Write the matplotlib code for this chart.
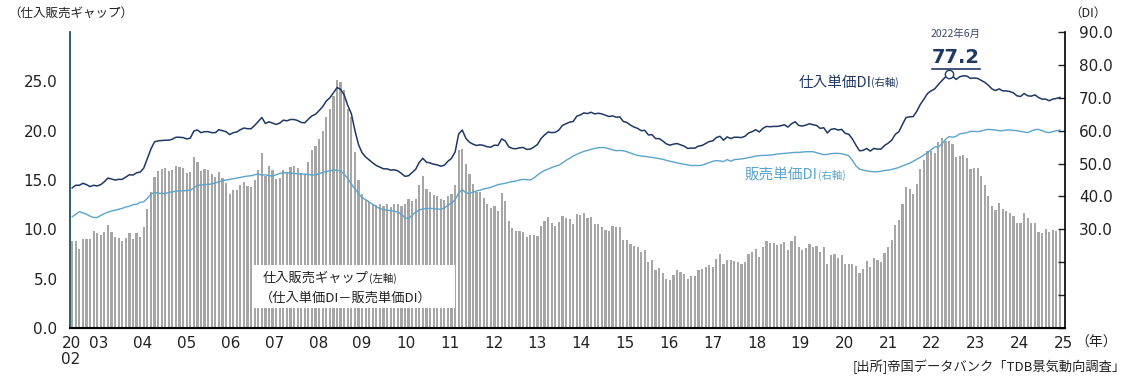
import numpy as np
import matplotlib.pyplot as plt
from matplotlib.patches import Rectangle
from matplotlib.lines import Line2D

plt.rcParams['font.family'] = ['Noto Sans CJK JP', 'DejaVu Sans']

# 月次 2002年1月〜2025年1月
gap = [
    8.8, 8.8, 8.0, 9.0, 9.0, 9.0, 9.8, 9.6, 9.4, 9.7, 10.4, 9.7,
    9.2, 9.1, 8.8, 9.1, 9.6, 9.0, 9.6, 9.2, 10.2, 12.1, 13.8, 15.3,
    15.9, 16.1, 16.2, 15.9, 16.0, 16.4, 16.3, 16.2, 15.7, 15.8, 17.3, 16.8,
    15.9, 16.1, 16.0, 15.6, 15.3, 15.8, 15.2, 14.7, 13.6, 14.0, 14.0, 14.5,
    14.8, 14.4, 14.3, 15.0, 16.0, 17.7, 15.4, 16.4, 16.0, 15.1, 15.2, 16.0,
    15.8, 16.3, 16.4, 16.2, 15.7, 15.6, 16.8, 18.0, 18.4, 19.2, 20.0, 21.4,
    22.2, 23.5, 25.1, 24.9, 24.1, 22.2, 21.4, 17.8, 15.0, 13.6, 13.0, 12.8,
    12.6, 12.5, 12.6, 12.4, 12.6, 12.3, 12.6, 12.6, 12.4, 12.6, 13.1, 12.9,
    13.1, 14.5, 15.4, 14.1, 13.8, 13.5, 13.4, 13.1, 13.0, 13.4, 13.6, 14.5,
    18.0, 18.1, 16.6, 15.6, 14.6, 13.8, 13.8, 13.2, 12.6, 12.2, 12.4, 11.9,
    13.7, 12.9, 10.8, 10.1, 9.8, 9.8, 9.7, 9.2, 9.4, 9.4, 9.3, 10.3,
    10.8, 11.3, 10.6, 10.3, 10.7, 11.4, 11.1, 11.0, 10.5, 11.6, 11.5, 11.7,
    11.2, 11.3, 10.5, 10.5, 10.2, 9.9, 9.8, 10.3, 10.2, 10.2, 8.9, 8.9,
    8.5, 8.3, 8.2, 7.7, 7.9, 6.7, 6.9, 5.9, 6.1, 5.6, 5.0, 4.9,
    5.4, 5.9, 5.7, 5.5, 5.0, 5.3, 5.3, 5.9, 6.0, 6.2, 6.4, 6.2,
    7.0, 7.5, 6.5, 6.9, 6.9, 6.8, 6.7, 6.5, 6.7, 7.5, 7.7, 8.0,
    7.2, 8.2, 8.8, 8.6, 8.6, 8.4, 8.5, 8.7, 7.9, 8.8, 9.3, 8.2,
    7.9, 8.1, 8.5, 8.2, 8.3, 7.7, 8.2, 6.5, 7.4, 7.5, 7.1, 7.4,
    6.5, 6.5, 6.5, 6.3, 5.6, 6.0, 6.8, 6.2, 7.1, 6.9, 6.7, 7.6,
    8.2, 8.9, 10.4, 10.9, 12.6, 14.3, 14.1, 13.6, 14.6, 16.1, 17.0, 17.9,
    17.9, 17.7, 18.9, 19.3, 19.0, 19.0, 18.6, 17.3, 17.4, 17.5, 17.2, 16.1,
    16.2, 16.2, 15.4, 14.5, 13.4, 12.4, 12.0, 12.7, 12.1, 11.9, 11.7, 11.4,
    10.6, 10.6, 11.7, 11.2, 10.6, 10.6, 9.7, 9.6, 10.0, 9.7, 9.9, 9.8,
    9.9,
]

purchase_di = [
    42.6, 43.4, 43.4, 44.0, 43.6, 43.0, 43.4, 43.2, 43.6, 44.5, 45.6, 45.3,
    45.0, 45.2, 45.2, 45.9, 46.6, 46.5, 47.2, 47.4, 48.6, 51.5, 54.4, 56.6,
    56.9, 57.0, 57.1, 57.1, 57.4, 58.0, 58.0, 57.9, 57.5, 57.7, 59.9, 60.2,
    59.4, 59.7, 59.7, 59.4, 59.4, 60.3, 60.0, 59.7, 58.8, 59.4, 59.6, 60.3,
    60.8, 60.6, 60.6, 61.6, 62.8, 64.0, 62.2, 62.7, 62.3, 61.9, 62.3, 63.2,
    63.0, 63.4, 63.4, 63.1, 62.5, 62.4, 63.5, 64.5, 65.0, 66.1, 67.3, 69.0,
    70.0, 71.5, 73.1, 72.6, 70.9, 67.7, 65.2, 60.1, 55.8, 53.3, 52.0, 51.1,
    50.2, 49.4, 48.9, 48.4, 48.4, 48.0, 48.1, 47.8, 47.0, 46.1, 46.3, 47.3,
    48.3, 50.4, 51.6, 50.4, 50.2, 49.8, 49.6, 49.2, 49.5, 50.7, 51.6, 53.5,
    59.0, 60.2, 57.7, 56.5, 55.9, 55.5, 55.7, 55.5, 55.1, 55.0, 55.6, 55.5,
    57.5, 56.9, 55.1, 54.6, 54.5, 54.8, 54.9, 54.3, 54.4, 55.0, 55.8, 57.6,
    58.7, 59.6, 59.4, 59.5, 60.2, 61.6, 62.1, 62.6, 62.8, 64.4, 64.8, 65.4,
    65.2, 65.6, 65.1, 65.3, 65.1, 64.7, 64.3, 64.5, 64.1, 64.2, 62.8, 62.5,
    61.7, 61.1, 60.7, 60.0, 60.1, 58.7, 58.8, 57.6, 57.6, 56.9, 56.0, 55.6,
    55.9, 56.1, 55.7, 55.3, 54.6, 54.7, 54.7, 55.3, 55.5, 56.1, 56.7, 56.9,
    57.9, 58.3, 57.1, 58.1, 57.6, 58.0, 58.0, 57.9, 58.3, 59.3, 59.7, 60.3,
    59.6, 60.7, 61.3, 61.2, 61.3, 61.3, 61.5, 61.8, 61.1, 62.1, 62.7, 61.6,
    61.4, 61.7, 62.1, 61.8, 61.6, 60.7, 60.9, 59.3, 60.4, 60.6, 60.2, 60.4,
    59.2, 58.9, 57.5, 55.6, 53.9, 54.0, 54.6, 53.8, 54.6, 54.4, 54.4, 55.5,
    56.2, 57.1, 58.9, 59.7, 61.9, 64.0, 64.2, 64.3, 65.9, 68.0, 69.6, 71.3,
    72.1, 72.7, 74.0, 75.2, 76.3, 77.2, 76.6, 75.6, 76.4, 76.7, 76.6, 75.9,
    76.0, 75.9, 75.3, 74.7, 73.8, 72.7, 72.2, 72.7, 72.1, 72.1, 71.9, 71.5,
    70.6, 70.4, 71.3, 70.6, 70.5, 70.9, 70.1, 69.6, 69.6, 69.1, 69.6, 69.8,
    70.1,
]

sales_di = [
    33.8, 34.6, 35.4, 35.0, 34.6, 34.0, 33.6, 33.6, 34.2, 34.8, 35.2, 35.6,
    35.8, 36.1, 36.4, 36.8, 37.0, 37.5, 37.6, 38.2, 38.4, 39.4, 40.6, 41.3,
    41.0, 40.9, 40.9, 41.2, 41.4, 41.6, 41.7, 41.7, 41.8, 41.9, 42.6, 43.4,
    43.5, 43.6, 43.7, 43.8, 44.1, 44.5, 44.8, 45.0, 45.2, 45.4, 45.6, 45.8,
    46.0, 46.2, 46.3, 46.6, 46.8, 46.5, 46.6, 46.3, 46.2, 46.6, 47.0, 47.2,
    47.2, 47.1, 47.0, 46.9, 46.8, 46.8, 46.7, 46.5, 46.6, 46.9, 47.3, 47.6,
    47.8, 48.0, 48.0, 47.7, 46.8, 45.5, 43.8, 42.3, 40.8, 39.7, 39.0, 38.3,
    37.6, 36.9, 36.3, 36.0, 35.8, 35.7, 35.5, 35.2, 34.6, 33.5, 33.2, 34.4,
    35.2, 35.9, 36.2, 36.3, 36.4, 36.3, 36.2, 36.1, 36.5, 37.3, 38.0, 39.0,
    41.0, 42.1, 41.1, 40.9, 41.3, 41.7, 41.9, 42.3, 42.5, 42.8, 43.2, 43.6,
    43.8, 44.0, 44.3, 44.5, 44.7, 45.0, 45.2, 45.1, 45.0, 45.6, 46.5, 47.3,
    47.9, 48.3, 48.8, 49.2, 49.5, 50.2, 51.0, 51.6, 52.3, 52.8, 53.3, 53.7,
    54.0, 54.3, 54.6, 54.8, 54.9, 54.8, 54.5, 54.2, 53.9, 54.0, 53.9, 53.6,
    53.2, 52.8, 52.5, 52.3, 52.2, 52.0, 51.9, 51.7, 51.5, 51.3, 51.0, 50.7,
    50.5, 50.2, 50.0, 49.8, 49.6, 49.4, 49.4, 49.4, 49.5, 49.9, 50.3, 50.7,
    50.9, 50.8, 50.6, 51.2, 50.7, 51.2, 51.3, 51.4, 51.6, 51.8, 52.0, 52.3,
    52.4, 52.5, 52.5, 52.6, 52.7, 52.9, 53.0, 53.1, 53.2, 53.3, 53.4, 53.4,
    53.5, 53.6, 53.6, 53.6, 53.3, 53.0, 52.7, 52.8, 53.0, 53.1, 53.1, 53.0,
    52.7, 52.4, 51.0, 49.3, 48.3, 48.0, 47.8, 47.6, 47.5, 47.5, 47.7, 47.9,
    48.0, 48.2, 48.5, 48.8, 49.3, 49.7, 50.1, 50.7, 51.3, 51.9, 52.6, 53.4,
    54.2, 55.0, 55.1, 55.9, 57.3, 58.2, 58.0, 58.3, 59.0, 59.2, 59.4, 59.8,
    59.8, 59.7, 59.9, 60.2, 60.4, 60.3, 60.2, 60.0, 60.0, 60.2, 60.2, 60.1,
    60.0, 59.8, 59.6, 59.4, 59.9, 60.3, 60.4, 60.0, 59.6, 59.4, 59.7, 60.0,
    60.2,
]

year_labels = ['20\n02', '03', '04', '05', '06', '07', '08', '09', '10', '11', '12', '13',
               '14', '15', '16', '17', '18', '19', '20', '21', '22', '23', '24', '25']

navy = '#1f3864'
light = '#5ba4cc'
txt = '#222222'
num_font = ['DejaVu Sans']

x = np.arange(len(gap))

fig = plt.figure(figsize=(11.31, 3.83), dpi=100)
ax = fig.add_axes([0.0619, 0.1436, 0.8797, 0.7728])
ax.bar(x, gap, width=0.62, color='#a6a6a6', zorder=2)
ax.set_xlim(-0.6, 277.4)
ax.set_ylim(0, 30)
ax.set_yticks(np.arange(0, 26, 5))
ax.set_yticklabels([f'{v:.1f}' for v in np.arange(0, 26, 5)], family=num_font)
ax.tick_params(axis='y', length=0, pad=9, labelsize=11, colors=txt)

# 年ラベル（02は軸の左端）
tick_pos = [-0.3] + [len(gap) - (2025 - y) * 12.25 for y in range(2003, 2026)]
ax.set_xticks(tick_pos)
ax.set_xticklabels(year_labels, linespacing=1.05, family=num_font)
ax.tick_params(axis='x', length=0, pad=6, labelsize=11, colors=txt)

ax.spines['top'].set_visible(False)
ax.spines['right'].set_visible(False)
ax.spines['left'].set_color('#1d4f5c')
ax.spines['left'].set_linewidth(1.3)
ax.spines['bottom'].set_linewidth(1.5)

ax2 = ax.twinx()
ax2.set_ylim(0, 90)
ax2.plot(x, purchase_di, color=navy, lw=1.1, zorder=3)
ax2.plot(x, sales_di, color=light, lw=1.0, zorder=3)
ax2.set_yticks(np.arange(0, 91, 10))
ax2.set_yticklabels(['' if v < 30 else f'{v:.1f}' for v in np.arange(0, 91, 10)], family=num_font)
ax2.tick_params(axis='y', direction='in', length=5, width=1, pad=10, labelsize=11, colors=txt)
for s in ['top', 'left']:
    ax2.spines[s].set_visible(False)
ax2.spines['right'].set_linewidth(1.2)

# ピーク
ipk = int(np.argmax(purchase_di))
ax2.plot(ipk, purchase_di[ipk], 'o', ms=6, mfc='white', mec=navy, mew=1.0, zorder=4)
peak_txt = ax2.annotate(f'{purchase_di[ipk]:.1f}', xy=(ipk, purchase_di[ipk]), xytext=(5, 5),
                        textcoords='offset points', ha='center', va='bottom',
                        fontsize=14, fontweight='bold', color=navy, family=num_font)
ax2.annotate('2022年6月', xy=(ipk, purchase_di[ipk]), xytext=(5, 25),
             textcoords='offset points', ha='center', va='bottom', fontsize=7.5, color='#3b4a66')

# 系列ラベル
t1 = ax2.text(0.732, 0.828, '仕入単価DI', transform=ax2.transAxes, fontsize=10.5,
              color=navy, va='center')
ax2.annotate('(右軸)', xy=(1, 0.5), xycoords=t1, va='center', fontsize=7.5, color=navy)
t2 = ax2.text(0.678, 0.517, '販売単価DI', transform=ax2.transAxes, fontsize=10.5,
              color=light, va='center')
ax2.annotate('(右軸)', xy=(1, 0.5), xycoords=t2, va='center', fontsize=7.5, color=light)

# 棒グラフの説明ボックス
ax2.add_patch(Rectangle((0.2237, 0.1958), 0.1786, 0.1123, transform=fig.transFigure,
                        facecolor='white', edgecolor='none', zorder=5, clip_on=False))
t3 = ax2.text(0.2325, 0.273, '仕入販売ギャップ', transform=fig.transFigure, fontsize=9.5,
              color=txt, va='center', zorder=6)
ax2.annotate('(左軸)', xy=(1, 0.5), xycoords=t3, va='center', fontsize=7.5, color=txt, zorder=6)
ax2.text(0.2300, 0.222, '（仕入単価DI－販売単価DI）', transform=fig.transFigure, fontsize=9.5,
         color=txt, va='center', zorder=6)

fig.text(0.007, 0.966, '（仕入販売ギャップ）', fontsize=9, color=txt, va='center')
fig.text(0.978, 0.966, '（DI）', fontsize=9, color=txt, va='center', ha='right')
fig.text(0.951, 0.104, '（年）', fontsize=10, color=txt, va='center')
fig.text(0.995, 0.042, '[出所]帝国データバンク「TDB景気動向調査」', fontsize=9.5,
         color=txt, va='center', ha='right')

# 77.2 の下線
fig.canvas.draw()
bb = peak_txt.get_window_extent().transformed(fig.transFigure.inverted())
fig.add_artist(Line2D([bb.x0, bb.x1], [bb.y0 - 0.004, bb.y0 - 0.004], transform=fig.transFigure,
                      color=navy, lw=1.2))

fig.savefig('out.png', dpi=100)
